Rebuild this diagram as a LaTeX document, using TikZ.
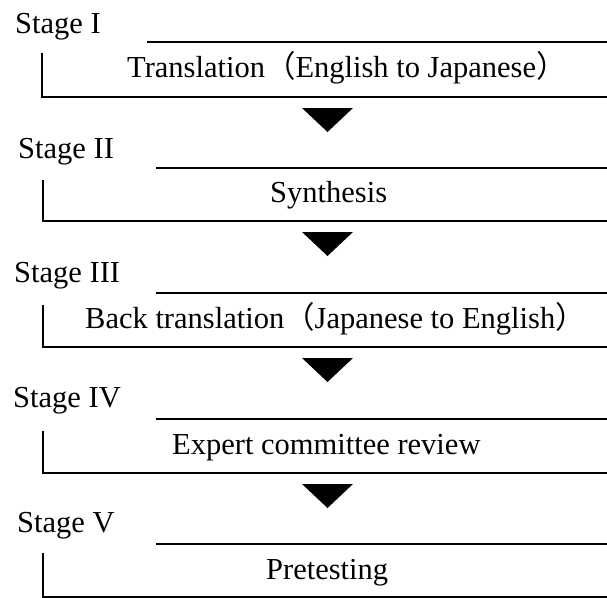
\documentclass[tikz,border=0pt]{standalone}
\usepackage{fontspec}
\setmainfont{Liberation Serif}
\newfontfamily\jpfont{Noto Sans CJK JP}
\usepackage{tikz}
\usetikzlibrary{positioning}

\newcommand{\jpl}{{\jpfont （}}
\newcommand{\jpr}{{\jpfont ）}}

\begin{document}
\begin{tikzpicture}[
  x=1pt, y=-1pt,
  every node/.style={inner sep=0pt, font=\fontsize{30.5}{36}\selectfont},
  frame/.style={line width=2.4pt},
  stagelabel/.style={anchor=base west},
  stagetext/.style={anchor=base west},
]
\useasboundingbox (0,0) rectangle (607,597);

% Stage I
\node[stagelabel] (s1) at (15,33) {Stage I};
\draw[frame] (147,42) -- (607,42);
\draw[frame] (42,53) -- (42,97) -- (607,97);
\node[stagetext] (t1) at (127,77) {Translation\jpl English to Japanese\jpr};

% Stage II
\node[stagelabel] (s2) at (18,158) {Stage II};
\draw[frame] (156,168) -- (607,168);
\draw[frame] (43,180) -- (43,221) -- (607,221);
\node[stagetext] (t2) at (270,202) {Synthesis};

% Stage III
\node[stagelabel] (s3) at (14,282) {Stage III};
\draw[frame] (156,293) -- (607,293);
\draw[frame] (43,305) -- (43,347) -- (607,347);
\node[stagetext] (t3) at (85,328) {Back translation\jpl Japanese to English\jpr};

% Stage IV
\node[stagelabel] (s4) at (13,407) {Stage IV};
\draw[frame] (156,419) -- (607,419);
\draw[frame] (43,431) -- (43,473) -- (607,473);
\node[stagetext] (t4) at (172,454) {Expert committee review};

% Stage V
\node[stagelabel] (s5) at (17,532) {Stage V};
\draw[frame] (156,544) -- (607,544);
\draw[frame] (43,553) -- (43,597) -- (607,597);
\node[stagetext] (t5) at (266,579) {Pretesting};

% arrows between stages
\foreach \y in {108,232,358,484}{
  \fill[black] (302,\y) -- (353,\y) -- (327.5,\y+24) -- cycle;
}

\end{tikzpicture}
\end{document}
